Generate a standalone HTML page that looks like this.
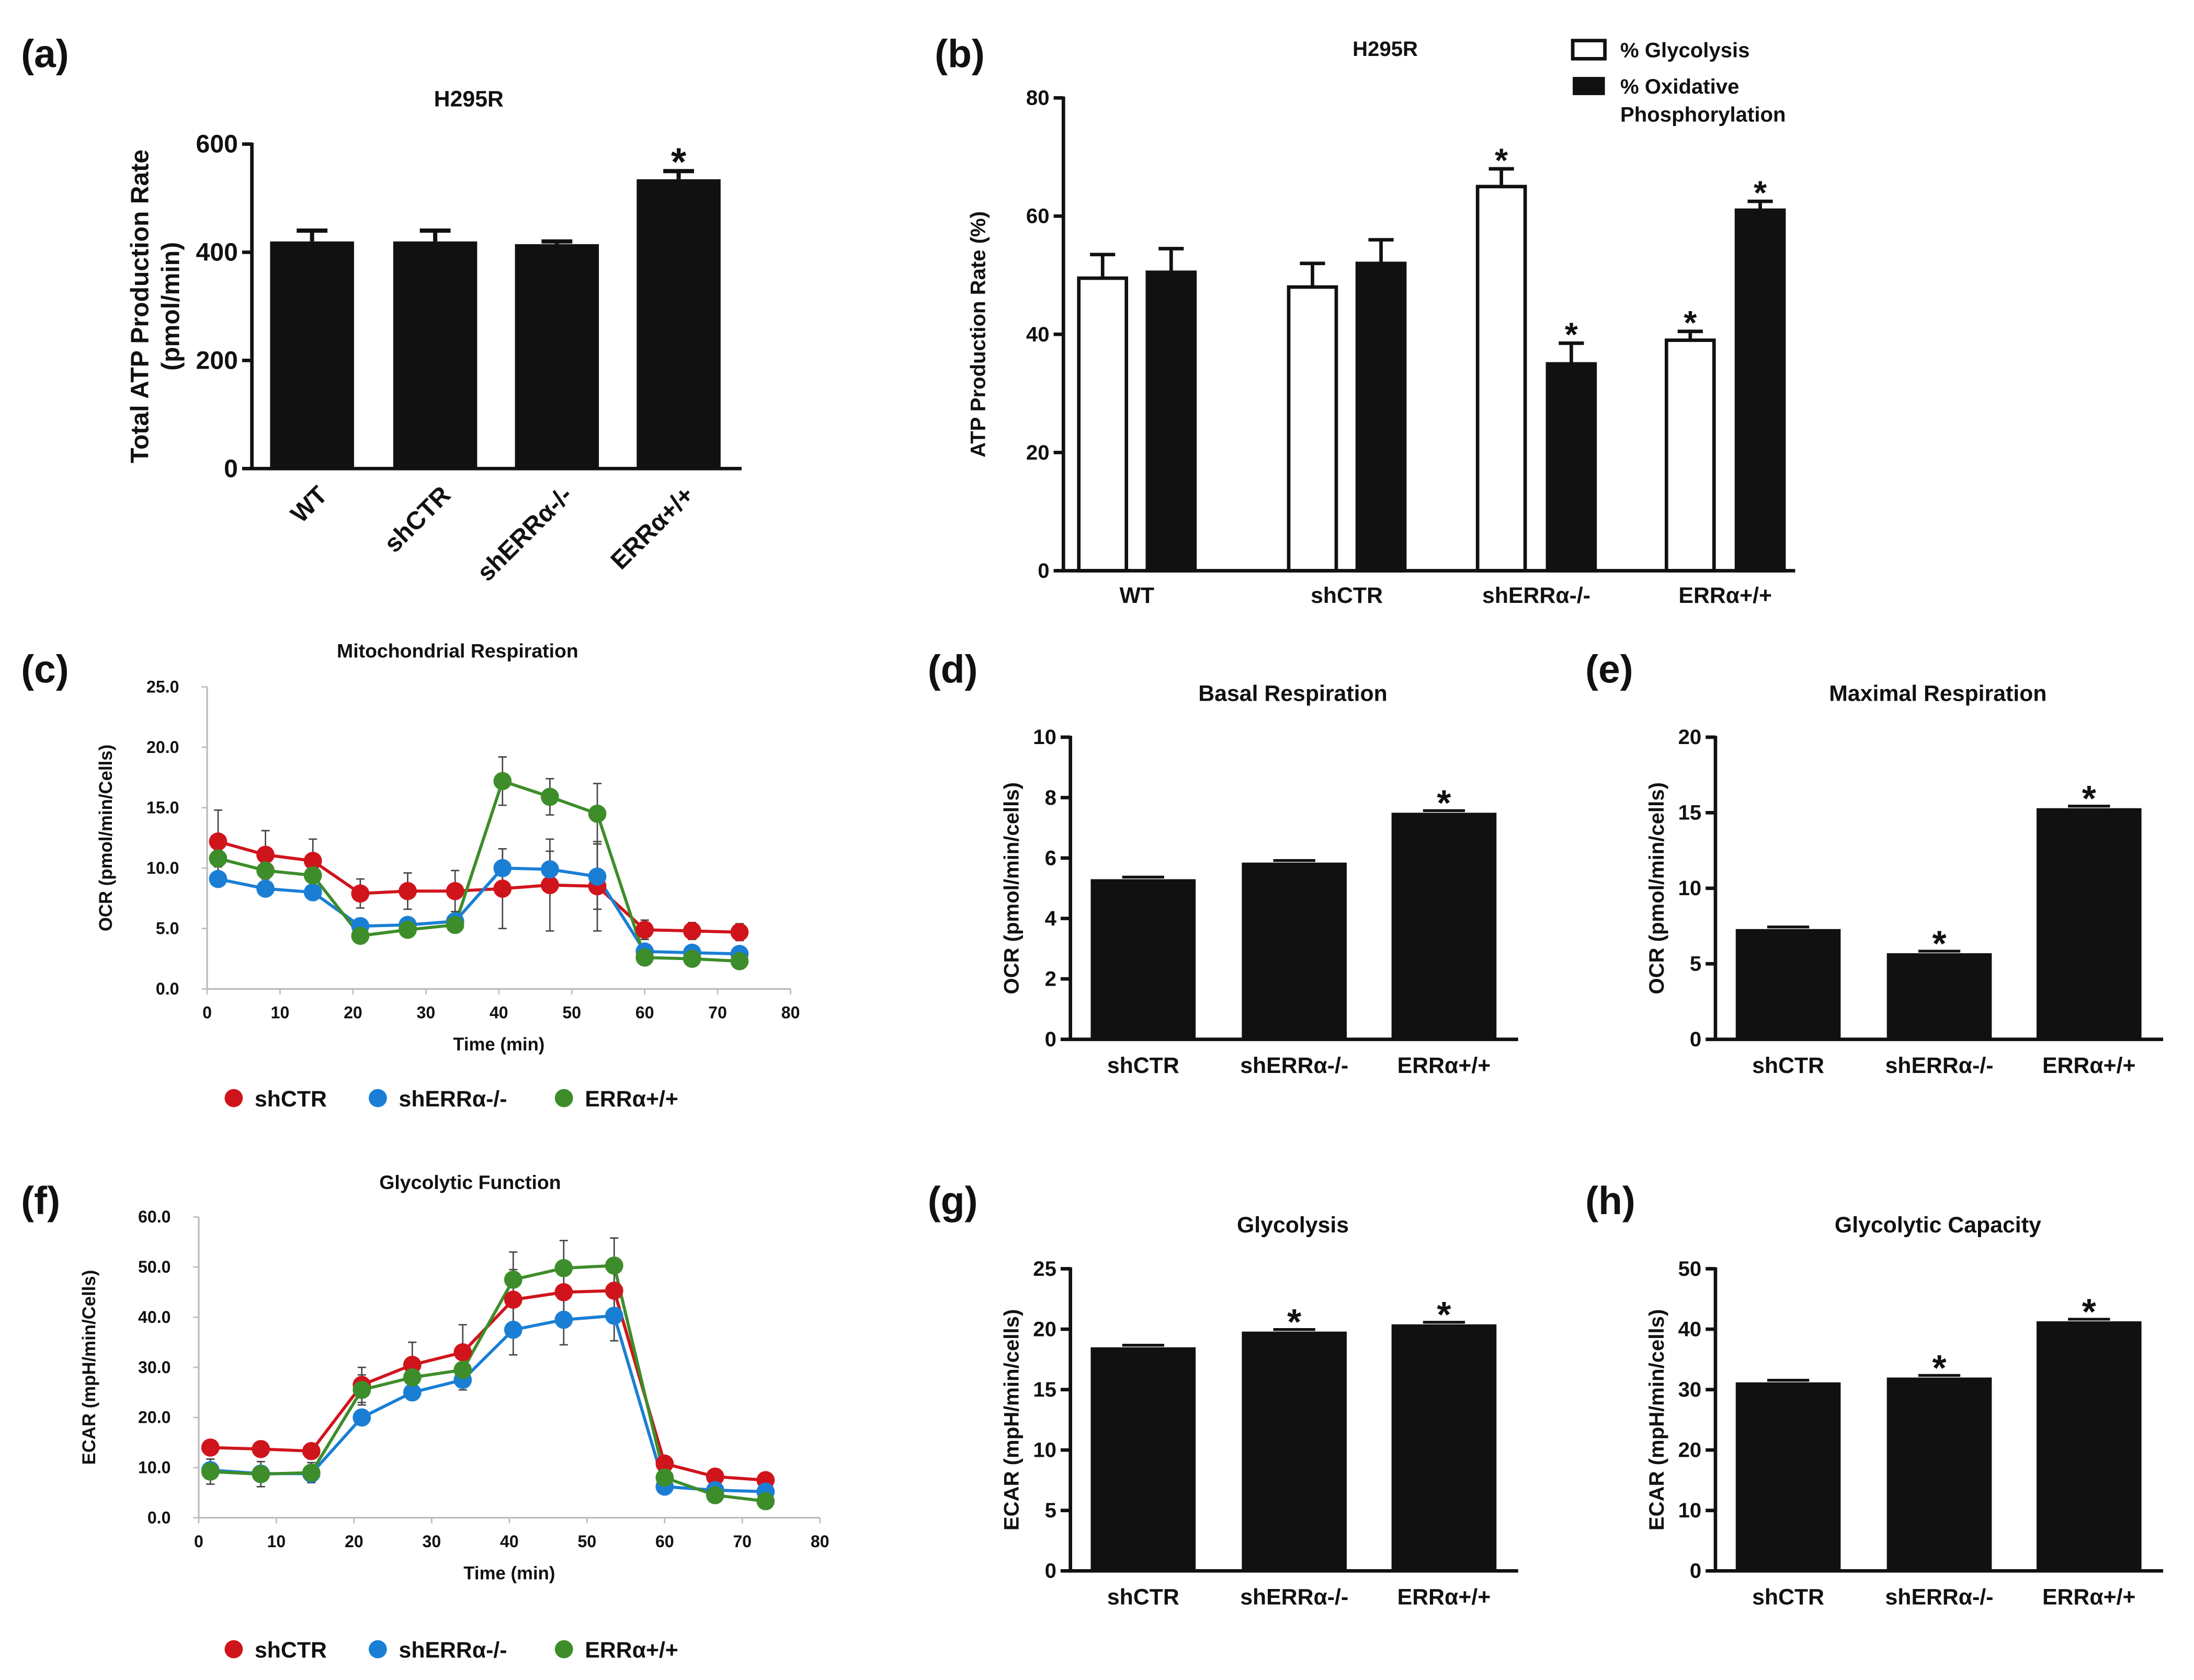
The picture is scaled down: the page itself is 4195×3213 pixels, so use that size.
<!DOCTYPE html>
<html><head><meta charset="utf-8"><style>
html,body{margin:0;padding:0;background:#fff}
svg{display:block}
text{font-family:"Liberation Sans",sans-serif;font-weight:bold;fill:#111}
</style></head><body>
<svg id="fig" width="4195" height="3213" viewBox="0 0 1568 1201" xmlns="http://www.w3.org/2000/svg"></svg>
<script>
// ---- data ----
const aCats=["WT","shCTR","shERRα-/-","ERRα+/+"];
const aVals=[420,420,415,535];
const aErr=[20,20,5,15];
const aStar=[false,false,false,true];
const bCats=["WT","shCTR","shERRα-/-","ERRα+/+"];
const bGly=[49.5,48,65,39];
const bGlyErr=[4,4,3,1.5];
const bOx=[50.5,52,35,61];
const bOxErr=[4,4,3.5,1.5];
const bGlyStar=[false,false,true,true];
const bOxStar=[false,false,true,true];
const tTimes=[1.5,8,14.5,21,27.5,34,40.5,47,53.5,60,66.5,73];
const cCTR=[12.2,11.1,10.6,7.9,8.1,8.1,8.3,8.6,8.5,4.9,4.8,4.7];
const cCTRerr=[2.6,2,1.8,1.2,1.5,1.7,3.3,3.8,3.7,0.8,0.7,0.7];
const cKO=[9.1,8.3,8.0,5.2,5.3,5.6,10.0,9.9,9.3,3.1,3.0,2.9];
const cKOerr=[0.6,0.5,0.5,0.4,0.4,0.4,1.6,1.5,2.7,0.3,0.3,0.3];
const cOE=[10.8,9.8,9.4,4.4,4.9,5.3,17.2,15.9,14.5,2.6,2.5,2.3];
const cOEerr=[0.7,0.6,0.6,0.4,0.5,0.5,2.0,1.5,2.5,0.3,0.3,0.3];
const fCTR=[14,13.7,13.3,26.5,30.5,33,43.5,45,45.3,10.8,8.2,7.5];
const fCTRerr=[1.2,1.2,1.2,3.5,4.5,5.5,6,6,6,1,1,1];
const fKO=[9.5,8.8,8.8,20,25,27.5,37.5,39.5,40.3,6.2,5.5,5.2];
const fKOerr=[1,1,1,1,1.5,2,5,5,5,1,1,1];
const fOE=[9.2,8.7,9,25.5,28,29.5,47.5,49.8,50.3,8,4.5,3.3];
const fOEerr=[2.5,2.5,2,3,3,3,5.5,5.5,5.5,1.5,1,1];
const small3Cats=["shCTR","shERRα-/-","ERRα+/+"];
const dVals=[5.3,5.85,7.5];const dStar=[false,false,true];
const eVals=[7.3,5.7,15.3];const eStar=[false,true,true];
const gVals=[18.5,19.8,20.4];const gStar=[false,true,true];
const hVals=[31.2,32,41.3];const hStar=[false,true,true];
const legendNames=["shCTR","shERRα-/-","ERRα+/+"];
const colors=["#d0141c","#1a7fd4","#3d8d2a"];

const NS="http://www.w3.org/2000/svg";
const svg=document.getElementById('fig');
function mk(tag,at,p){const e=document.createElementNS(NS,tag);for(const k in at)e.setAttribute(k,at[k]);(p||svg).appendChild(e);return e;}
function txt(x,y,s,size,anchor,p,extra){const t=mk('text',Object.assign({x:x,y:y,'font-size':size,'text-anchor':anchor||'middle'},extra||{}),p);t.textContent=s;return t;}

// panel letters
[["(a)",15,48],["(b)",668,48],["(c)",15,488],["(d)",663,488],["(e)",1133,488],["(f)",15,868],["(g)",663,868],["(h)",1133,868]].forEach(l=>{
 const t=txt(l[1],l[2],l[0],28,'start');
 
 
});

function yScale(y0,y1,vmax){return v=>y0-(y0-y1)*v/vmax;}

// ---- panel a ----
(function(){
 const g=mk('g',{});
 
 
 const Y=yScale(335,103,600), xs=[223,311,398,485], w=60;
 txt(335,76,"H295R",16,'middle',g);
 aVals.forEach((v,i)=>{
  const r=mk('rect',{x:xs[i]-w/2,y:Y(v),width:w,height:335-Y(v),fill:'#111'},g);
  
  
  mk('line',{x1:xs[i],x2:xs[i],y1:Y(v),y2:Y(v+aErr[i]),stroke:'#111','stroke-width':3},g);
  mk('line',{x1:xs[i]-11,x2:xs[i]+11,y1:Y(v+aErr[i]),y2:Y(v+aErr[i]),stroke:'#111','stroke-width':3},g);
  if(aStar[i]) txt(xs[i],Y(v+aErr[i])+3,"*",28,'middle',g);
  txt(xs[i]+12,355,aCats[i],18,'end',g,{transform:`rotate(-45 ${xs[i]+12} 355)`});
 });
 mk('line',{x1:180,x2:180,y1:102,y2:336,stroke:'#111','stroke-width':2.5},g);
 mk('line',{x1:179,x2:530,y1:335,y2:335,stroke:'#111','stroke-width':2.5},g);
 [0,200,400,600].forEach(v=>{mk('line',{x1:173,x2:180,y1:Y(v),y2:Y(v),stroke:'#111','stroke-width':2.5},g);txt(170,Y(v)+6,v,18,'end',g);});
 txt(0,0,"Total ATP Production Rate",18,'middle',g,{transform:'translate(106 219) rotate(-90)'});
 txt(0,0,"(pmol/min)",18,'middle',g,{transform:'translate(128 219) rotate(-90)'});
})();

// ---- panel b ----
(function(){
 const g=mk('g',{});
 
 
 const Y=yScale(408,70,80), xg=[788,938,1073,1208], xo=[837,987,1123,1258], w=34;
 txt(990,40,"H295R",15,'middle',g);
 function bar(x,v,e,fill,star,name){
  const r=mk('rect',{x:x-w/2,y:Y(v),width:w,height:408-Y(v),fill:fill,stroke:'#111','stroke-width':2.5},g);
  
  
  mk('line',{x1:x,x2:x,y1:Y(v),y2:Y(v+e),stroke:'#111','stroke-width':2.5},g);
  mk('line',{x1:x-9,x2:x+9,y1:Y(v+e),y2:Y(v+e),stroke:'#111','stroke-width':2.5},g);
  if(star) txt(x,Y(v+e)+2,"*",24,'middle',g);
 }
 bCats.forEach((c,i)=>{
  bar(xg[i],bGly[i],bGlyErr[i],'#fff',bGlyStar[i],'bar-glycolysis-'+c);
  bar(xo[i],bOx[i],bOxErr[i],'#111',bOxStar[i],'bar-oxphos-'+c);
  txt((xg[i]+xo[i])/2,431,c,16,'middle',g);
 });
 mk('line',{x1:760,x2:760,y1:69,y2:409,stroke:'#111','stroke-width':2.5},g);
 mk('line',{x1:759,x2:1283,y1:408,y2:408,stroke:'#111','stroke-width':2.5},g);
 [0,20,40,60,80].forEach(v=>{mk('line',{x1:753,x2:760,y1:Y(v),y2:Y(v),stroke:'#111','stroke-width':2.5},g);txt(750,Y(v)+5,v,15,'end',g);});
 txt(0,0,"ATP Production Rate (%)",15,'middle',g,{transform:'translate(704 239) rotate(-90)'});
 const l1=mk('rect',{x:1124,y:29,width:23,height:13,fill:'#fff',stroke:'#111','stroke-width':2.5},g);
 
 
 txt(1158,41,"% Glycolysis",15,'start',g);
 const l2=mk('rect',{x:1124,y:55,width:23,height:13,fill:'#111'},g);
 
 
 txt(1158,67,"% Oxidative",15,'start',g);
 txt(1158,87,"Phosphorylation",15,'start',g);
})();

// ---- line charts ----
function lineChart(o){
 const g=mk('g',{});
 
 
 const X=t=>o.x0+(o.x1-o.x0)*t/80, Y=yScale(o.y0,o.y1,o.vmax);
 txt(o.titleX,o.titleY,o.title,14,'middle',g);
 mk('line',{x1:o.x0,x2:o.x0,y1:o.y1,y2:o.y0,stroke:'#bbb','stroke-width':1.2},g);
 mk('line',{x1:o.x0,x2:o.x1,y1:o.y0,y2:o.y0,stroke:'#bbb','stroke-width':1.2},g);
 for(let t=0;t<=80;t+=10){mk('line',{x1:X(t),x2:X(t),y1:o.y0,y2:o.y0+4,stroke:'#bbb','stroke-width':1},g);txt(X(t),o.y0+21,t,12,'middle',g,{'font-weight':'normal'});}
 o.ticks.forEach(v=>{mk('line',{x1:o.x0-4,x2:o.x0,y1:Y(v),y2:Y(v),stroke:'#bbb','stroke-width':1},g);txt(o.x0-20,Y(v)+4,v.toFixed(1),12,'end',g,{'font-weight':'normal'});});
 txt(X(40),o.y0+44,"Time (min)",13,'middle',g);
 txt(0,0,o.ylab,13,'middle',g,{transform:`translate(${o.ylx} ${(o.y0+o.y1)/2}) rotate(-90)`});
 o.series.forEach((s,k)=>{
  const pts=tTimes.map((t,i)=>X(t)+','+Y(s[i])).join(' ');
  const pl=mk('polyline',{points:pts,fill:'none',stroke:colors[k],'stroke-width':2.2},g);
  
  
 });
 o.series.forEach((s,k)=>{
  tTimes.forEach((t,i)=>{
   const e=o.errs[k][i];
   mk('line',{x1:X(t),x2:X(t),y1:Y(s[i]-e),y2:Y(s[i]+e),stroke:'#444','stroke-width':1},g);
   mk('line',{x1:X(t)-3,x2:X(t)+3,y1:Y(s[i]+e),y2:Y(s[i]+e),stroke:'#444','stroke-width':1},g);
   mk('line',{x1:X(t)-3,x2:X(t)+3,y1:Y(s[i]-e),y2:Y(s[i]-e),stroke:'#444','stroke-width':1},g);
  });
 });
 o.series.forEach((s,k)=>{
  tTimes.forEach((t,i)=>{
   const c=mk('circle',{cx:X(t),cy:Y(s[i]),r:6.5,fill:colors[k]},g);
   
   
  });
 });
 const lx=[167,270,403];
 legendNames.forEach((n,k)=>{
  const c=mk('circle',{cx:lx[k],cy:o.legY-6,r:6.5,fill:colors[k]},g);
  
  
  txt(lx[k]+15,o.legY,n,16,'start',g);
 });
}
lineChart({name:'panel-c-mitochondrial-respiration',title:'Mitochondrial Respiration',titleX:327,titleY:470,x0:148,x1:565,y0:707,y1:491,vmax:25,ticks:[0,5,10,15,20,25],ylab:'OCR (pmol/min/Cells)',ylx:80,series:[cCTR,cKO,cOE],errs:[cCTRerr,cKOerr,cOEerr],legY:791});
lineChart({name:'panel-f-glycolytic-function',title:'Glycolytic Function',titleX:336,titleY:850,x0:142,x1:586,y0:1085,y1:870,vmax:60,ticks:[0,10,20,30,40,50,60],ylab:'ECAR (mpH/min/Cells)',ylx:68,series:[fCTR,fKO,fOE],errs:[fCTRerr,fKOerr,fOEerr],legY:1185});

// ---- small bar charts ----
function smallBar(o){
 const g=mk('g',{});
 
 
 const Y=yScale(o.y0,o.y0-216,o.vmax), xs=[o.ax+52,o.ax+160,o.ax+267], w=75;
 txt(o.ax+159,o.y0-242,o.title,16,'middle',g);
 o.vals.forEach((v,i)=>{
  const r=mk('rect',{x:xs[i]-w/2,y:Y(v),width:w,height:o.y0-Y(v),fill:'#111'},g);
  
  
  mk('line',{x1:xs[i]-15,x2:xs[i]+15,y1:Y(v)-1.5,y2:Y(v)-1.5,stroke:'#111','stroke-width':2},g);
  if(o.star[i]){const s=txt(xs[i],Y(v)+2,"*",26,'middle',g);
   
   }
  txt(xs[i],o.y0+24,small3Cats[i],16,'middle',g);
 });
 mk('line',{x1:o.ax,x2:o.ax,y1:o.y0-217,y2:o.y0+1,stroke:'#111','stroke-width':2.5},g);
 mk('line',{x1:o.ax-1,x2:o.ax+320,y1:o.y0,y2:o.y0,stroke:'#111','stroke-width':2.5},g);
 o.ticks.forEach(v=>{mk('line',{x1:o.ax-7,x2:o.ax,y1:Y(v),y2:Y(v),stroke:'#111','stroke-width':2.5},g);txt(o.ax-10,Y(v)+5,v,15,'end',g);});
 txt(0,0,o.ylab,15,'middle',g,{transform:`translate(${o.ax-37} ${o.y0-108}) rotate(-90)`});
}
smallBar({name:'panel-d-basal-respiration',title:'Basal Respiration',ax:765,y0:743,vmax:10,ticks:[0,2,4,6,8,10],vals:dVals,star:dStar,ylab:'OCR (pmol/min/cells)'});
smallBar({name:'panel-e-maximal-respiration',title:'Maximal Respiration',ax:1226,y0:743,vmax:20,ticks:[0,5,10,15,20],vals:eVals,star:eStar,ylab:'OCR (pmol/min/cells)'});
smallBar({name:'panel-g-glycolysis',title:'Glycolysis',ax:765,y0:1123,vmax:25,ticks:[0,5,10,15,20,25],vals:gVals,star:gStar,ylab:'ECAR (mpH/min/cells)'});
smallBar({name:'panel-h-glycolytic-capacity',title:'Glycolytic Capacity',ax:1226,y0:1123,vmax:50,ticks:[0,10,20,30,40,50],vals:hVals,star:hStar,ylab:'ECAR (mpH/min/cells)'});
</script>
</body></html>
